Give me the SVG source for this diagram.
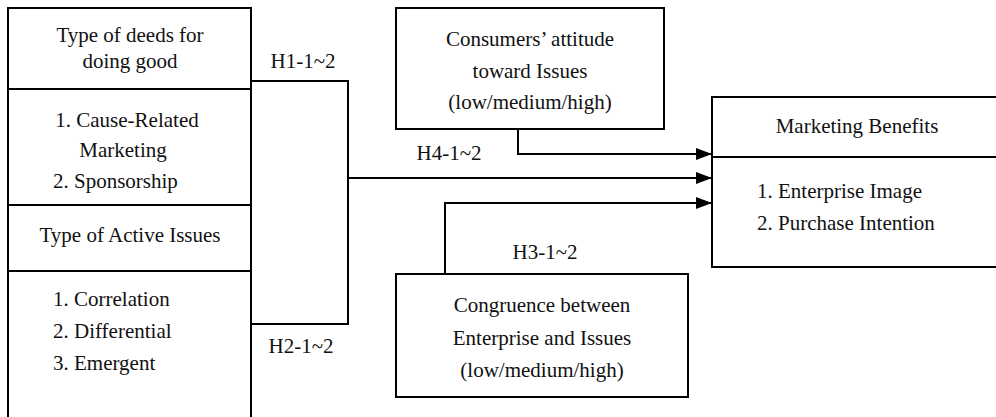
<svg xmlns="http://www.w3.org/2000/svg" width="996" height="417" viewBox="0 0 996 417" font-family="'Liberation Serif', 'Times New Roman', Times, serif" font-size="21">
<defs>
<marker id="arr" markerUnits="userSpaceOnUse" markerWidth="16" markerHeight="12" refX="16" refY="6" orient="auto">
<path d="M0,0 L16,6 L0,12 Z" fill="#000"/>
</marker>
</defs>
<style>
.box, .ln { fill: none; stroke: #000; stroke-width: 2; }
text { fill: #111; }
.c { text-anchor: middle; }
.conn { fill: none; stroke: #000; stroke-width: 2; }
</style>
<rect x="0" y="0" width="996" height="417" fill="#fff"/>
<g id="deeds">
<rect class="box" x="8" y="8" width="243" height="430"/>
<line class="ln" x1="8" y1="89" x2="251" y2="89"/>
<text class="c" x="130" y="42">Type of deeds for</text>
<text class="c" x="130" y="68">doing good</text>
<text class="c" x="127" y="127">1. Cause-Related</text>
<text class="c" x="123" y="157">Marketing</text>
<text x="53" y="188">2. Sponsorship</text>
</g>
<g id="issues">
<line class="ln" x1="8" y1="205" x2="251" y2="205"/>
<line class="ln" x1="8" y1="271" x2="251" y2="271"/>
<text class="c" x="130" y="242">Type of Active Issues</text>
<text x="53" y="306">1. Correlation</text>
<text x="53" y="338">2. Differential</text>
<text x="53" y="370">3. Emergent</text>
</g>
<g id="attitude">
<rect class="box" x="396" y="8" width="268" height="121"/>
<text class="c" x="530" y="46">Consumers’ attitude</text>
<text class="c" x="530" y="78">toward Issues</text>
<text class="c" x="530" y="109">(low/medium/high)</text>
</g>
<g id="benefits">
<rect class="box" x="712" y="97" width="300" height="170"/>
<line class="ln" x1="712" y1="157" x2="996" y2="157"/>
<text class="c" x="857" y="133">Marketing Benefits</text>
<text x="757" y="198">1. Enterprise Image</text>
<text x="757" y="230">2. Purchase Intention</text>
</g>
<g id="congruence">
<rect class="box" x="396" y="274" width="292" height="123"/>
<text class="c" x="542" y="312">Congruence between</text>
<text class="c" x="542" y="345">Enterprise and Issues</text>
<text class="c" x="542" y="377">(low/medium/high)</text>
</g>
<g id="connectors">
<polyline class="conn" points="251,81 348,81 348,324 251,324"/>
<polyline class="conn" points="348,178 712,178" marker-end="url(#arr)"/>
<polyline class="conn" points="518,129 518,154 712,154" marker-end="url(#arr)"/>
<polyline class="conn" points="445,274 445,203 712,203" marker-end="url(#arr)"/>
<text class="c" x="303" y="68">H1-1~2</text>
<text class="c" x="301" y="353">H2-1~2</text>
<text class="c" x="449" y="160">H4-1~2</text>
<text class="c" x="545" y="259">H3-1~2</text>
</g>
</svg>
